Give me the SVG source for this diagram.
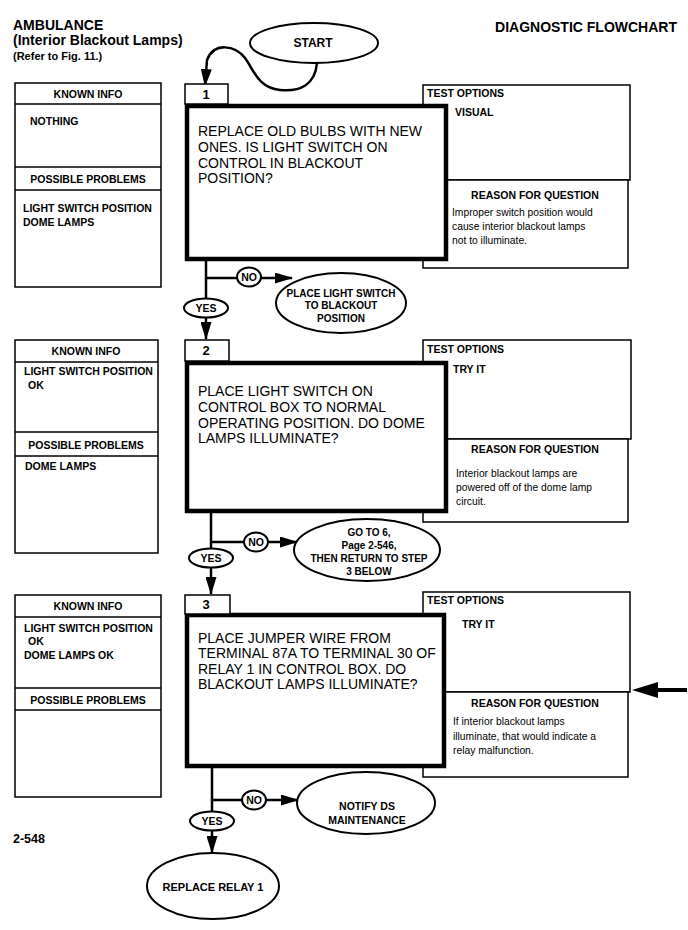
<svg xmlns="http://www.w3.org/2000/svg" width="688" height="930" viewBox="0 0 688 930">
<defs>
<style>
.t{font-family:"Liberation Sans",Arial,sans-serif;fill:#000}
.b{font-weight:bold}
.h{font-size:14px;font-weight:bold}
.lbl{font-size:10.5px;font-weight:bold}
.el{font-size:10px;font-weight:bold}
.q{font-size:14px}
.r{font-size:10.3px}
.box{fill:#fff;stroke:#000;stroke-width:1.5}
.qb{fill:#fff;stroke:#000;stroke-width:4.5}
.ell{fill:#fff;stroke:#000;stroke-width:2}
.ln{fill:none;stroke:#000;stroke-width:2.5}
.mid{text-anchor:middle}
</style>
<marker id="ah" markerWidth="18" markerHeight="11" refX="17" refY="5.5" orient="auto" markerUnits="userSpaceOnUse"><path d="M0,0 L18,5.5 L0,11 z" fill="#000"/></marker>
</defs>
<rect width="688" height="930" fill="#fff"/>

<g id="header">
<text class="t h" x="13" y="30">AMBULANCE</text>
<text class="t h" x="13" y="45">(Interior Blackout Lamps)</text>
<text class="t b" x="13" y="60" font-size="11">(Refer to Fig. 11.)</text>
<text class="t h" x="677" y="32" text-anchor="end">DIAGNOSTIC FLOWCHART</text>
<text class="t b" x="13" y="843" font-size="12.5">2-548</text>
</g>

<g id="connectors">
<path class="ln" d="M317 63 C 315 85, 300 92, 280 90 C 258 88, 254 70, 245 58 C 235 45, 214 42, 207 60 L 205 86" marker-end="url(#ah)"/>
<line class="ln" x1="206" y1="260" x2="206" y2="339" marker-end="url(#ah)"/>
<line class="ln" x1="206" y1="278" x2="292" y2="278" marker-end="url(#ah)"/>
<line class="ln" x1="211" y1="512" x2="211" y2="594" marker-end="url(#ah)"/>
<line class="ln" x1="211" y1="542" x2="297" y2="542" marker-end="url(#ah)"/>
<line class="ln" x1="212" y1="767" x2="212" y2="853" marker-end="url(#ah)"/>
<line class="ln" x1="212" y1="800" x2="298" y2="800" marker-end="url(#ah)"/>
<line x1="656" y1="690" x2="687" y2="690" stroke="#000" stroke-width="4"/>
<path d="M632 690 L658 682 L658 698 z" fill="#000"/>
</g>

<g id="start">
<ellipse class="ell" cx="314" cy="43" rx="64" ry="20"/>
<text class="t b mid" x="313" y="47" font-size="12">START</text>
</g>

<!-- STEP 1 -->
<g id="known1">
<rect class="box" x="15" y="83" width="146" height="204"/>
<line x1="15" y1="104" x2="161" y2="104" stroke="#000" stroke-width="1.5"/>
<line x1="15" y1="167" x2="161" y2="167" stroke="#000" stroke-width="1.5"/>
<line x1="15" y1="190" x2="161" y2="190" stroke="#000" stroke-width="1.5"/>
<text class="t lbl mid" x="88" y="98">KNOWN INFO</text>
<text class="t lbl" x="30" y="125">NOTHING</text>
<text class="t lbl mid" x="88" y="183">POSSIBLE PROBLEMS</text>
<text class="t lbl" x="23" y="212">LIGHT SWITCH POSITION</text>
<text class="t lbl" x="23" y="226">DOME LAMPS</text>
</g>
<g id="test1">
<rect class="box" x="423" y="85" width="207" height="95"/>
<rect class="box" x="423" y="180" width="205" height="88"/>
<text class="t lbl" x="427" y="97">TEST OPTIONS</text>
<text class="t lbl" x="455" y="116">VISUAL</text>
<text class="t lbl mid" x="535" y="199">REASON FOR QUESTION</text>
<text class="t r" x="452" y="216">Improper switch position would</text>
<text class="t r" x="452" y="230">cause interior blackout  lamps</text>
<text class="t r" x="452" y="244">not to illuminate.</text>
</g>
<g id="step1">
<rect class="qb" x="187" y="106" width="259" height="153"/>
<rect class="box" x="185" y="84" width="43" height="20"/>
<text class="t b mid" x="206" y="99" font-size="13">1</text>
<text class="t q" x="198" y="136">REPLACE OLD BULBS WITH NEW</text>
<text class="t q" x="198" y="152">ONES. IS LIGHT SWITCH ON</text>
<text class="t q" x="198" y="168">CONTROL IN BLACKOUT</text>
<text class="t q" x="198" y="183">POSITION?</text>
</g>
<g id="no1">
<ellipse class="ell" cx="249" cy="277" rx="12" ry="9.5"/>
<text class="t lbl mid" x="249" y="281">NO</text>
</g>
<g id="yes1">
<ellipse class="ell" cx="206" cy="308" rx="22" ry="9.5"/>
<text class="t lbl mid" x="206" y="312">YES</text>
</g>
<g id="end1">
<ellipse class="ell" cx="341" cy="303" rx="65" ry="30"/>
<text class="t el mid" x="341" y="297">PLACE LIGHT SWITCH</text>
<text class="t el mid" x="341" y="309">TO BLACKOUT</text>
<text class="t el mid" x="341" y="322">POSITION</text>
</g>

<!-- STEP 2 -->
<g id="known2">
<rect class="box" x="15" y="340" width="143" height="213"/>
<line x1="15" y1="362" x2="158" y2="362" stroke="#000" stroke-width="1.5"/>
<line x1="15" y1="432" x2="158" y2="432" stroke="#000" stroke-width="1.5"/>
<line x1="15" y1="456" x2="158" y2="456" stroke="#000" stroke-width="1.5"/>
<text class="t lbl mid" x="86" y="355">KNOWN INFO</text>
<text class="t lbl" x="24" y="375">LIGHT SWITCH POSITION</text>
<text class="t lbl" x="28" y="389">OK</text>
<text class="t lbl mid" x="86" y="449">POSSIBLE PROBLEMS</text>
<text class="t lbl" x="25" y="470">DOME LAMPS</text>
</g>
<g id="test2">
<rect class="box" x="423" y="340" width="208" height="99"/>
<rect class="box" x="423" y="439" width="205" height="83"/>
<text class="t lbl" x="427" y="353">TEST OPTIONS</text>
<text class="t lbl" x="453" y="373">TRY IT</text>
<text class="t lbl mid" x="535" y="453">REASON FOR QUESTION</text>
<text class="t r" x="456" y="477">Interior blackout lamps are</text>
<text class="t r" x="456" y="491">powered off of the dome lamp</text>
<text class="t r" x="456" y="505">circuit.</text>
</g>
<g id="step2">
<rect class="qb" x="187" y="363" width="259" height="148"/>
<rect class="box" x="185" y="340" width="44" height="21"/>
<text class="t b mid" x="206" y="355" font-size="13">2</text>
<text class="t q" x="198" y="396">PLACE LIGHT SWITCH ON</text>
<text class="t q" x="198" y="412">CONTROL BOX TO NORMAL</text>
<text class="t q" x="198" y="428">OPERATING POSITION. DO DOME</text>
<text class="t q" x="198" y="443">LAMPS ILLUMINATE?</text>
</g>
<g id="no2">
<ellipse class="ell" cx="256" cy="542" rx="12" ry="9.5"/>
<text class="t lbl mid" x="256" y="546">NO</text>
</g>
<g id="yes2">
<ellipse class="ell" cx="211" cy="558" rx="22" ry="9.5"/>
<text class="t lbl mid" x="211" y="562">YES</text>
</g>
<g id="end2">
<ellipse class="ell" cx="367" cy="550" rx="73" ry="31"/>
<text class="t el mid" x="369" y="536">GO TO 6,</text>
<text class="t el mid" x="369" y="549">Page 2-546,</text>
<text class="t el mid" x="369" y="562">THEN RETURN TO STEP</text>
<text class="t el mid" x="369" y="575">3 BELOW</text>
</g>

<!-- STEP 3 -->
<g id="known3">
<rect class="box" x="15" y="595" width="146" height="202"/>
<line x1="15" y1="617" x2="161" y2="617" stroke="#000" stroke-width="1.5"/>
<line x1="15" y1="688" x2="161" y2="688" stroke="#000" stroke-width="1.5"/>
<line x1="15" y1="710" x2="161" y2="710" stroke="#000" stroke-width="1.5"/>
<text class="t lbl mid" x="88" y="610">KNOWN INFO</text>
<text class="t lbl" x="24" y="632">LIGHT SWITCH POSITION</text>
<text class="t lbl" x="28" y="645">OK</text>
<text class="t lbl" x="24" y="659">DOME LAMPS OK</text>
<text class="t lbl mid" x="88" y="704">POSSIBLE PROBLEMS</text>
</g>
<g id="test3">
<rect class="box" x="423" y="592" width="207" height="100"/>
<rect class="box" x="423" y="692" width="205" height="85"/>
<text class="t lbl" x="427" y="604">TEST OPTIONS</text>
<text class="t lbl" x="462" y="628">TRY IT</text>
<text class="t lbl mid" x="535" y="707">REASON FOR QUESTION</text>
<text class="t r" x="453" y="725">If interior blackout lamps</text>
<text class="t r" x="453" y="740">illuminate, that would indicate a</text>
<text class="t r" x="453" y="754">relay malfunction.</text>
</g>
<g id="step3">
<rect class="qb" x="187" y="615" width="257" height="151"/>
<rect class="box" x="185" y="595" width="45" height="19"/>
<text class="t b mid" x="206" y="609" font-size="13">3</text>
<text class="t q" x="198" y="643">PLACE JUMPER WIRE FROM</text>
<text class="t q" x="198" y="658">TERMINAL 87A TO TERMINAL 30 OF</text>
<text class="t q" x="198" y="674">RELAY 1 IN CONTROL BOX. DO</text>
<text class="t q" x="198" y="689">BLACKOUT LAMPS ILLUMINATE?</text>
</g>
<g id="no3">
<ellipse class="ell" cx="254" cy="800" rx="12" ry="9.5"/>
<text class="t lbl mid" x="254" y="804">NO</text>
</g>
<g id="yes3">
<ellipse class="ell" cx="212" cy="821" rx="22" ry="9.5"/>
<text class="t lbl mid" x="212" y="825">YES</text>
</g>
<g id="end3a">
<ellipse class="ell" cx="366" cy="803" rx="69" ry="31"/>
<text class="t lbl mid" x="367" y="810">NOTIFY DS</text>
<text class="t lbl mid" x="367" y="824">MAINTENANCE</text>
</g>
<g id="end3b">
<ellipse class="ell" cx="213" cy="886" rx="66" ry="33"/>
<text class="t b mid" x="213" y="891" font-size="11">REPLACE RELAY 1</text>
</g>
</svg>
